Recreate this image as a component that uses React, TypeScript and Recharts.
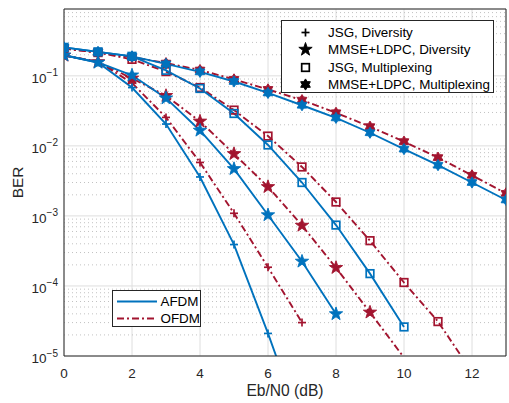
import React from 'react';
import { LineChart, Line, XAxis, YAxis, CartesianGrid, ReferenceLine } from 'recharts';

// ---------- data ----------
const ebn0 = [0, 1, 2, 3, 4, 5, 6, 7, 8, 9, 10, 11, 12, 13];

// AFDM (blue, solid)
const afdmJsgDiv = [0.197, 0.155, 0.068, 0.0205, 0.0036, 3.9e-4, 2.1e-5, 9.3e-7];
const afdmMmseDiv = [0.197, 0.155, 0.102, 0.048, 0.0166, 0.0047, 1.03e-3, 2.24e-4, 3.98e-5];
const afdmJsgMux = [0.255, 0.22, 0.19, 0.12, 0.066, 0.029, 0.0103, 0.003, 7.4e-4, 1.5e-4, 2.6e-5];
const afdmMmseMux = [0.255, 0.22, 0.19, 0.148, 0.114, 0.083, 0.057, 0.038, 0.0251, 0.0154, 0.009, 0.0053, 0.003, 0.00169];

// OFDM (red, dash-dot)
const ofdmJsgDiv = [0.195, 0.16, 0.079, 0.0255, 0.0058, 0.00109, 1.85e-4, 3.0e-5];
const ofdmMmseDiv = [0.195, 0.158, 0.092, 0.052, 0.0224, 0.0077, 0.0026, 7.3e-4, 1.82e-4, 4.2e-5, 9.5e-6];
const ofdmJsgMux = [0.245, 0.215, 0.172, 0.115, 0.068, 0.0324, 0.0138, 0.005, 0.00158, 4.43e-4, 1.12e-4, 3.1e-5, 5.9e-6];
const ofdmMmseMux = [0.245, 0.215, 0.185, 0.152, 0.121, 0.089, 0.064, 0.045, 0.0297, 0.0188, 0.0115, 0.0068, 0.0038, 0.0021];

const xTicks = [0, 2, 4, 6, 8, 10, 12];
const yMajorTicks = [1e-5, 1e-4, 1e-3, 1e-2, 1e-1];
const yMinorTicks = [
  2e-5, 3e-5, 4e-5, 5e-5, 6e-5, 7e-5, 8e-5, 9e-5,
  2e-4, 3e-4, 4e-4, 5e-4, 6e-4, 7e-4, 8e-4, 9e-4,
  2e-3, 3e-3, 4e-3, 5e-3, 6e-3, 7e-3, 8e-3, 9e-3,
  2e-2, 3e-2, 4e-2, 5e-2, 6e-2, 7e-2, 8e-2, 9e-2,
  0.2, 0.3, 0.4, 0.5, 0.6, 0.7, 0.8,
];
const yAllTicks = [...yMajorTicks, ...yMinorTicks];
const xDomain = [0, 13];
const yDomain = [1e-5, 0.9];

const schemeLabels = ['JSG, Diversity', 'MMSE+LDPC, Diversity', 'JSG, Multiplexing', 'MMSE+LDPC, Multiplexing'];
const schemeMarkers = ['plus', 'star', 'square', 'hexagram'];
const waveformLabels = ['AFDM', 'OFDM'];

// ---------- styles ----------
const BLUE = '#0072BD';
const RED = '#A2142F';
const AXIS = '#262626';
const FONT = '"Liberation Sans", Arial, Helvetica, sans-serif';
const RED_DASH = '7 3 2 3';
const LINE_W = 1.9;

const toPoints = (vals: number[]) => vals.map((y, i) => ({ x: ebn0[i], y }));

const series = [
  { key: 'ofdm-jsg-div', data: toPoints(ofdmJsgDiv), color: RED, dash: RED_DASH, marker: 'plus' },
  { key: 'ofdm-mmse-div', data: toPoints(ofdmMmseDiv), color: RED, dash: RED_DASH, marker: 'star' },
  { key: 'ofdm-jsg-mux', data: toPoints(ofdmJsgMux), color: RED, dash: RED_DASH, marker: 'square' },
  { key: 'ofdm-mmse-mux', data: toPoints(ofdmMmseMux), color: RED, dash: RED_DASH, marker: 'hexagram' },
  { key: 'afdm-jsg-div', data: toPoints(afdmJsgDiv), color: BLUE, dash: undefined, marker: 'plus' },
  { key: 'afdm-mmse-div', data: toPoints(afdmMmseDiv), color: BLUE, dash: undefined, marker: 'star' },
  { key: 'afdm-jsg-mux', data: toPoints(afdmJsgMux), color: BLUE, dash: undefined, marker: 'square' },
  { key: 'afdm-mmse-mux', data: toPoints(afdmMmseMux), color: BLUE, dash: undefined, marker: 'hexagram' },
];

function starPoints(cx: number, cy: number, n: number, ro: number, ri: number) {
  const pts: string[] = [];
  for (let i = 0; i < 2 * n; i++) {
    const r = i % 2 === 0 ? ro : ri;
    const a = -Math.PI / 2 + (i * Math.PI) / n;
    pts.push(`${(cx + r * Math.cos(a)).toFixed(2)},${(cy + r * Math.sin(a)).toFixed(2)}`);
  }
  return pts.join(' ');
}

function Marker({ type, cx, cy, color }: { type: string; cx: number; cy: number; color: string }) {
  if (type === 'plus') {
    const h = 4;
    return (
      <g stroke={color} strokeWidth={1.7}>
        <line x1={cx - h} y1={cy} x2={cx + h} y2={cy} />
        <line x1={cx} y1={cy - h} x2={cx} y2={cy + h} />
      </g>
    );
  }
  if (type === 'star') {
    return <polygon points={starPoints(cx, cy, 5, 7, 2.8)} fill={color} stroke={color} strokeWidth={0.9} />;
  }
  if (type === 'square') {
    const s = 3.8;
    return <rect x={cx - s} y={cy - s} width={2 * s} height={2 * s} fill="none" stroke={color} strokeWidth={1.7} />;
  }
  return <polygon points={starPoints(cx, cy, 6, 5.6, 3.4)} fill={color} stroke={color} strokeWidth={0.9} />;
}

const YTick = (props: any) => {
  const { x, y, payload } = props;
  const exp = Math.round(Math.log10(payload.value));
  return (
    <text x={x - 6} y={y + 7} textAnchor="end" fill={AXIS} fontSize={13.5} fontFamily={FONT}>
      10
      <tspan dy={-6.5} fontSize={10}>{`\u2212${Math.abs(exp)}`}</tspan>
    </text>
  );
};

const XTick = (props: any) => {
  const { x, y, payload } = props;
  return (
    <text x={x} y={y + 22} textAnchor="middle" fill={AXIS} fontSize={13.5} fontFamily={FONT}>
      {payload.value}
    </text>
  );
};

const YLabel = (props: any) => {
  const vb = props.viewBox || { x: 0, y: 9, width: 64, height: 347 };
  const cx = vb.x + 22.5;
  const cy = vb.y + vb.height / 2;
  return (
    <text x={cx} y={cy} transform={`rotate(-90, ${cx}, ${cy})`} textAnchor="middle" fill={AXIS} fontSize={15.4} fontFamily={FONT}>
      BER
    </text>
  );
};

const XLabel = (props: any) => {
  const vb = props.viewBox || { x: 64, y: 356, width: 442, height: 47 };
  return (
    <text x={vb.x + vb.width / 2} y={vb.y + 40} textAnchor="middle" fill={AXIS} fontSize={15.6} fontFamily={FONT}>
      Eb/N0 (dB)
    </text>
  );
};

function MarkerLegend() {
  return (
    <div
      style={{
        position: 'absolute', left: 281, top: 20, width: 213, height: 73,
        border: `1px solid ${AXIS}`, background: '#fff', boxSizing: 'border-box',
        fontFamily: FONT, fontSize: 13.4, color: '#000',
      }}
    >
      {schemeLabels.map((label, i) => (
        <div key={label} style={{ position: 'absolute', left: 0, top: 2.7 + i * 17.4, height: 17, width: '100%' }}>
          <svg width={40} height={17} style={{ position: 'absolute', left: 4, top: 0 }}>
            <Marker type={schemeMarkers[i]} cx={19.5} cy={8.5} color="#000" />
          </svg>
          <span style={{ position: 'absolute', left: 46, top: 0, lineHeight: '17px', whiteSpace: 'nowrap' }}>{label}</span>
        </div>
      ))}
    </div>
  );
}

function LineLegend() {
  const styles = [
    { color: BLUE, dash: undefined as string | undefined },
    { color: RED, dash: RED_DASH },
  ];
  return (
    <div
      style={{
        position: 'absolute', left: 112, top: 290, width: 89, height: 37,
        border: `1px solid ${AXIS}`, background: '#fff', boxSizing: 'border-box',
        fontFamily: FONT, fontSize: 13.4, color: '#000',
      }}
    >
      {waveformLabels.map((label, i) => (
        <div key={label} style={{ position: 'absolute', left: 0, top: 1.5 + i * 17.2, height: 17, width: '100%' }}>
          <svg width={46} height={17} style={{ position: 'absolute', left: 0, top: 0 }}>
            <line x1={4} y1={8.5} x2={44} y2={8.5} stroke={styles[i].color} strokeWidth={LINE_W} strokeDasharray={styles[i].dash} />
          </svg>
          <span style={{ position: 'absolute', left: 47.5, top: 0, lineHeight: '17px', whiteSpace: 'nowrap' }}>{label}</span>
        </div>
      ))}
    </div>
  );
}

const tickLineStyle = { stroke: AXIS, strokeWidth: 1 } as any;

export default function App() {
  return (
    <div style={{ position: 'absolute', left: 0, top: 0, width: 509, height: 403, background: '#fff' }}>
      <LineChart width={509} height={403} margin={{ top: 9, right: 3, bottom: 0, left: 0 }}>
        <CartesianGrid xAxisId="x" yAxisId="y" stroke="#dedede" />
        {yMinorTicks.map((v) => (
          <ReferenceLine
            key={`minor-${v}`}
            xAxisId="x"
            yAxisId="y"
            y={v}
            stroke="#c2c2c2"
            strokeWidth={1}
            strokeDasharray="1 3"
            ifOverflow="visible"
          />
        ))}
        <XAxis
          xAxisId="x" dataKey="x" type="number" domain={xDomain} ticks={xTicks} allowDataOverflow interval={0}
          height={47} tickSize={0} tickMargin={0} tickLine={false} tick={<XTick />}
          axisLine={{ stroke: AXIS }} label={XLabel}
        />
        <XAxis xAxisId="xb" type="number" orientation="bottom" mirror domain={xDomain} ticks={xTicks} allowDataOverflow
          interval={0} height={1} tick={false} tickSize={4} tickLine={tickLineStyle} axisLine={false} />
        <XAxis xAxisId="xt" type="number" orientation="top" mirror domain={xDomain} ticks={xTicks} allowDataOverflow
          interval={0} height={1} tick={false} tickSize={4} tickLine={tickLineStyle} axisLine={{ stroke: AXIS }} />
        <YAxis
          yAxisId="y" type="number" scale="log" domain={yDomain} ticks={yMajorTicks} allowDataOverflow interval={0}
          width={64} tickSize={0} tickMargin={0} tickLine={false} tick={<YTick />}
          axisLine={{ stroke: AXIS }} label={YLabel}
        />
        <YAxis yAxisId="yl" type="number" scale="log" orientation="left" mirror domain={yDomain} ticks={yAllTicks}
          allowDataOverflow interval={0} width={1} tick={false} tickSize={4} tickLine={tickLineStyle} axisLine={false} />
        <YAxis yAxisId="yr" type="number" scale="log" orientation="right" mirror domain={yDomain} ticks={yAllTicks}
          allowDataOverflow interval={0} width={1} tick={false} tickSize={4} tickLine={tickLineStyle} axisLine={{ stroke: AXIS }} />
        {series.map((s) => (
          <Line
            key={s.key}
            xAxisId="x"
            yAxisId="y"
            data={s.data}
            dataKey="y"
            type="linear"
            stroke={s.color}
            strokeWidth={LINE_W}
            strokeDasharray={s.dash}
            isAnimationActive={false}
            activeDot={false}
            dot={(p: any) => {
              const k = `${s.key}-${p.index}`;
              if (p.value == null || p.value < yDomain[0] || p.cx == null || p.cy == null) return <g key={k} />;
              return (
                <g key={k}>
                  <Marker type={s.marker} cx={p.cx} cy={p.cy} color={s.color} />
                </g>
              );
            }}
          />
        ))}
      </LineChart>
      <MarkerLegend />
      <LineLegend />
    </div>
  );
}
